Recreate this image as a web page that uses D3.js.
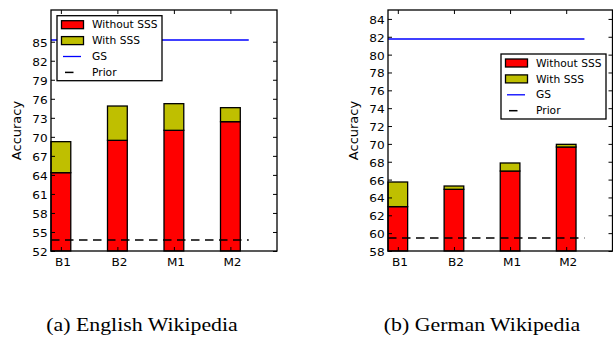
<!DOCTYPE html>
<html>
<head>
<meta charset="utf-8">
<script src="https://cdn.jsdelivr.net/npm/d3@7"></script>
<style>
  body { margin: 0; background: #fff; }
  svg { display: block; }
  text { font-family: "DejaVu Sans", sans-serif; fill: #000; }
  .caption { font-family: "Liberation Serif", "Times New Roman", serif; }
</style>
</head>
<body>
<svg id="chart" width="613" height="337"></svg>
<script>
// --- data ---
const categories = ["B1", "B2", "M1", "M2"];
const legendLabels = ["Without SSS", "With SSS", "GS", "Prior"];
const captions = ["(a) English Wikipedia", "(b) German Wikipedia"];

const enWithout = [64.35, 69.45, 71.03, 72.39];
const enWith = [69.24, 74.86, 75.23, 74.6];   // top of stacked bar
const enGS = 85.27;
const enPrior = 53.73;
const enTicks = [52, 55, 58, 61, 64, 67, 70, 73, 76, 79, 82, 85];

const deWithout = [62.97, 64.91, 66.96, 69.65];
const deWith = [65.73, 65.28, 67.86, 69.95];
const deGS = 81.75;
const dePrior = 59.46;
const deTicks = [58, 60, 62, 64, 66, 68, 70, 72, 74, 76, 78, 80, 82, 84];

const RED = "#ff0000", OLIVE = "#bfbf00", BLUE = "#0000ff";
const STRETCH = 1.1;   // source figure is a bit wider than tall

const svg = d3.select("#chart");

function drawPanel(cfg) {
    const { x0, x1, y0, y1 } = cfg;
    const x = d3.scaleLinear().domain([0, 4]).range([x0, x1]);
    const y = d3.scaleLinear().domain(cfg.yDomain).range([y1, y0]);
    const barW = 0.35;
    const g = svg.append("g");

    // bars: without SSS (red), with SSS on top (olive)
    g.selectAll(".bar-without").data(cfg.without).join("rect")
        .attr("x", (d, i) => x(i)).attr("width", x(barW) - x(0))
        .attr("y", d => y(d)).attr("height", d => y(cfg.yDomain[0]) - y(d))
        .attr("fill", RED).attr("stroke", "#000").attr("stroke-width", 1.3);
    g.selectAll(".bar-with").data(cfg.withSSS).join("rect")
        .attr("x", (d, i) => x(i)).attr("width", x(barW) - x(0))
        .attr("y", d => y(d)).attr("height", (d, i) => y(cfg.without[i]) - y(d))
        .attr("fill", OLIVE).attr("stroke", "#000").attr("stroke-width", 1.3);

    // reference lines
    g.append("line").attr("x1", x(0)).attr("x2", x(3.5))
        .attr("y1", y(cfg.gs)).attr("y2", y(cfg.gs))
        .attr("stroke", BLUE).attr("stroke-width", 1.3);
    g.append("line").attr("x1", x(0)).attr("x2", x(3.5))
        .attr("y1", y(cfg.prior)).attr("y2", y(cfg.prior))
        .attr("stroke", "#000").attr("stroke-width", 1.5).attr("stroke-dasharray", "8.5,5.5");

    // frame
    g.append("rect").attr("x", x0).attr("y", y0).attr("width", x1 - x0).attr("height", y1 - y0)
        .attr("fill", "none").attr("stroke", "#000").attr("stroke-width", 1.3);

    // axes (ticks pointing inward)
    const tickPos = categories.map((c, i) => i + barW / 2);
    const yAxis = g.append("g").attr("transform", `translate(${x0},0)`)
        .call(d3.axisLeft(y).tickValues(cfg.ticks).tickSizeInner(-4).tickSizeOuter(0).tickPadding(3));
    const yAxisR = g.append("g").attr("transform", `translate(${x1},0)`)
        .call(d3.axisRight(y).tickValues(cfg.ticks).tickSizeInner(-4).tickSizeOuter(0).tickFormat(""));
    const xAxis = g.append("g").attr("transform", `translate(0,${y1})`)
        .call(d3.axisBottom(x).tickValues(tickPos).tickSizeInner(-4).tickSizeOuter(0).tickPadding(7)
            .tickFormat((d, i) => categories[i]));
    const xAxisT = g.append("g").attr("transform", `translate(0,${y0})`)
        .call(d3.axisTop(x).tickValues(tickPos).tickSizeInner(-4).tickSizeOuter(0).tickFormat(""));
    [yAxis, yAxisR, xAxis, xAxisT].forEach(a => {
        a.select(".domain").remove();
        a.selectAll(".tick line").attr("stroke", "#000").attr("stroke-width", 1);
        a.selectAll(".tick text").attr("font-size", 11).attr("font-family", "DejaVu Sans")
            .attr("transform", `scale(${STRETCH},1)`);
    });
    yAxis.selectAll(".tick text").attr("dy", "0.4em");
    xAxis.selectAll(".tick text").attr("dx", 1.4);

    // y label
    svg.append("text")
        .attr("transform", `translate(${cfg.ylabelX},${(y0 + y1) / 2}) rotate(-90)`)
        .attr("text-anchor", "middle").attr("font-size", 13)
        .text("Accuracy");

    // legend
    const lg = svg.append("g").attr("transform", `translate(${cfg.legendX},${cfg.legendY})`);
    lg.append("rect").attr("width", 105).attr("height", 65)
        .attr("fill", "#fff").attr("stroke", "#000").attr("stroke-width", 1.3);
    legendLabels.forEach((label, i) => {
        const cy = 9 + i * 15.9;
        if (i < 2) {
            lg.append("rect").attr("x", 4.5).attr("y", cy - 4).attr("width", 22).attr("height", 8)
                .attr("fill", i === 0 ? RED : OLIVE).attr("stroke", "#000").attr("stroke-width", 1.3);
        } else if (i === 2) {
            lg.append("line").attr("x1", 6).attr("x2", 24).attr("y1", cy).attr("y2", cy)
                .attr("stroke", BLUE).attr("stroke-width", 1.3);
        } else {
            lg.append("line").attr("x1", 8).attr("x2", 16.5).attr("y1", cy).attr("y2", cy)
                .attr("stroke", "#000").attr("stroke-width", 1.5);
        }
        lg.append("text").attr("transform", `translate(35,${cy + 3.6}) scale(1.07,1)`)
            .attr("font-size", 10).text(label);
    });

    // caption
    svg.append("text").attr("class", "caption")
        .attr("transform", `translate(${cfg.captionX},331) scale(1.15,1)`)
        .attr("text-anchor", "middle").attr("font-size", 19)
        .text(cfg.caption);
}

drawPanel({
    x0: 51, x1: 277, y0: 10, y1: 251, yDomain: [52, 90], ticks: enTicks,
    without: enWithout, withSSS: enWith, gs: enGS, prior: enPrior,
    ylabelX: 21, legendX: 57, legendY: 15.7, captionX: 142, caption: captions[0]
});
drawPanel({
    x0: 388, x1: 612.5, y0: 10, y1: 251, yDomain: [58, 85], ticks: deTicks,
    without: deWithout, withSSS: deWith, gs: deGS, prior: dePrior,
    ylabelX: 358, legendX: 501, legendY: 54, captionX: 482, caption: captions[1]
});
</script>
</body>
</html>
